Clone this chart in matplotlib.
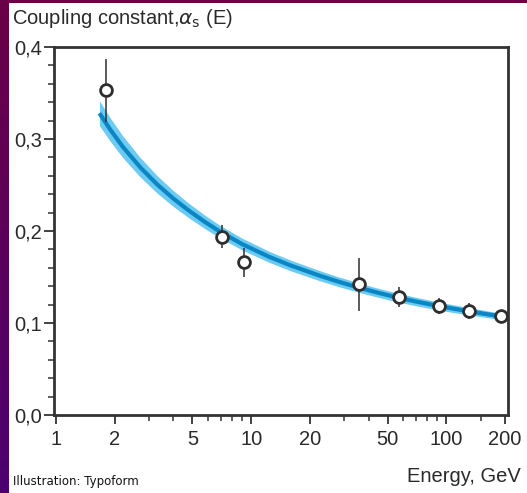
import numpy as np
import matplotlib
matplotlib.use("Agg")
import matplotlib.pyplot as plt
from matplotlib.patches import Rectangle
from matplotlib.colors import LinearSegmentedColormap
from matplotlib.ticker import FixedLocator, FixedFormatter, NullFormatter

# ---- data ----
point_energy = [1.80, 7.06, 9.15, 35.8, 57.4, 91.9, 130.8, 190.0]
point_alpha = [0.353, 0.194, 0.166, 0.142, 0.128, 0.1185, 0.113, 0.1076]
point_err = [0.034, 0.012, 0.016, 0.029, 0.011, 0.009, 0.009, 0.0]

curve_energy = [1.67, 1.9, 2.2, 2.7, 3.3, 4.0, 4.8, 5.8, 6.9, 9.0, 12.4, 16.0,
                22.4, 28.0, 35.8, 45.0, 55.0, 70.0, 92.0, 110.0, 131.0, 160.0, 190.0]
curve_alpha = [0.328, 0.310, 0.2915, 0.2693, 0.2506, 0.2351, 0.2221, 0.2098, 0.1995,
               0.1857, 0.1718, 0.1624, 0.1515, 0.1449, 0.1383, 0.1327, 0.1282,
               0.1233, 0.1183, 0.1154, 0.1127, 0.1097, 0.1073]
curve_halfwidth = [0.0135, 0.0127, 0.0118, 0.0106, 0.0095, 0.0086, 0.0079, 0.0073,
                   0.0068, 0.0064, 0.0060, 0.0058, 0.0055, 0.0053, 0.0051, 0.0049,
                   0.0048, 0.0046, 0.0044, 0.0042, 0.0040, 0.0037, 0.0034]

x_ticks = [1, 2, 5, 10, 20, 50, 100, 200]
x_ticklabels = ["1", "2", "5", "10", "20", "50", "100", "200"]
x_minor = [3, 4, 6, 7, 8, 9, 30, 40, 60, 70, 80, 90, 150]
y_ticks = [0.0, 0.1, 0.2, 0.3, 0.4]
y_ticklabels = ["0,0", "0,1", "0,2", "0,3", "0,4"]

title_text = r"Coupling constant,$\alpha_\mathrm{s}$ (E)"
xlabel_text = "Energy, GeV"
credit_text = "Illustration: Typoform"

# ---- figure ----
W, H = 527, 493
fig = plt.figure(figsize=(W / 100, H / 100), dpi=100)
fig.patch.set_facecolor("white")
plt.rcParams["font.family"] = ["Liberation Sans", "DejaVu Sans"]
plt.rcParams["mathtext.fontset"] = "dejavusans"

# decorative left gradient strip and top strip
strip = fig.add_axes([0, 0, 9 / W, 1])
grad = np.linspace(0, 1, 256).reshape(-1, 1)
cm = LinearSegmentedColormap.from_list("strip", ["#6a0046", "#4c0070"])
strip.imshow(grad, aspect="auto", cmap=cm, extent=[0, 1, 0, 1], origin="upper")
strip.set_axis_off()
fig.patches.append(Rectangle((0, 1 - 3 / H), 1, 3 / H, transform=fig.transFigure,
                             facecolor="#6a0046", edgecolor="none"))

ax = fig.add_axes([54 / W, 1 - 415 / H, (508 - 54) / W, (415 - 47) / H])
ax.set_xscale("log")
ax.set_xlim(0.977, 207)
ax.set_ylim(0, 0.4)

lo = np.array(curve_alpha) - np.array(curve_halfwidth)
hi = np.array(curve_alpha) + np.array(curve_halfwidth)
ax.fill_between(curve_energy, lo, hi, color="#6dcbf2", linewidth=0, zorder=2)
ax.plot(curve_energy, curve_alpha, color="#0a86c4", lw=3.0, zorder=3,
        solid_capstyle="butt", solid_joinstyle="round")

ax.errorbar(point_energy, point_alpha, yerr=point_err, fmt="o", ms=8.5,
            mfc="white", mec="#2e2e2e", mew=2.0, ecolor="#2e2e2e", elinewidth=1.1,
            capsize=0, zorder=5, clip_on=False)

spine_c = "#333333"
for s in ax.spines.values():
    s.set_color(spine_c)
    s.set_linewidth(2.0)

ax.xaxis.set_major_locator(FixedLocator(x_ticks))
ax.xaxis.set_major_formatter(FixedFormatter(x_ticklabels))
ax.xaxis.set_minor_locator(FixedLocator(x_minor))
ax.xaxis.set_minor_formatter(NullFormatter())
ax.yaxis.set_major_locator(FixedLocator(y_ticks))
ax.yaxis.set_major_formatter(FixedFormatter(y_ticklabels))
ax.yaxis.set_minor_locator(FixedLocator(np.arange(0.02, 0.4, 0.02)))

ax.tick_params(axis="both", which="major", direction="out", color=spine_c,
               labelsize=14.5, labelcolor="#2a2a2a", width=1.3)
ax.tick_params(axis="x", which="major", length=6.5, pad=4)
ax.tick_params(axis="y", which="major", length=7.5, pad=1)
ax.tick_params(axis="x", which="minor", direction="out", length=4, width=1.1, color=spine_c)
ax.tick_params(axis="y", which="minor", direction="out", length=4, width=1.1, color=spine_c)
ax.tick_params(top=False, right=False, which="both")

fig.text(12 / W, 1 - 18 / H, title_text, fontsize=14.5, color="#2a2a2a",
         ha="left", va="center")
fig.text(521 / W, 1 - 476 / H, xlabel_text, fontsize=14.5, color="#2a2a2a",
         ha="right", va="center")
fig.text(13 / W, 1 - 481 / H, credit_text, fontsize=8.5, color="#111111",
         ha="left", va="center", family=["DejaVu Sans Condensed", "DejaVu Sans"])

fig.savefig("out.png", dpi=100, facecolor="white")
